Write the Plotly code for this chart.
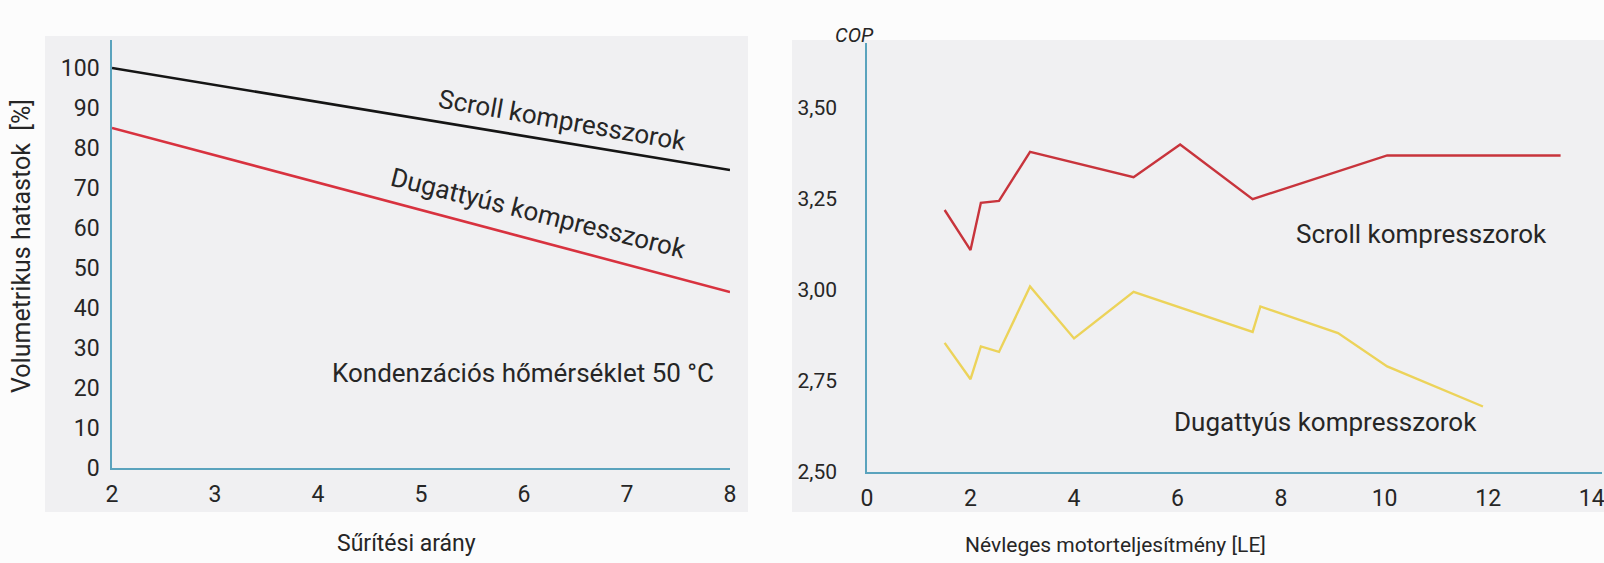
import plotly.graph_objects as go

# ---------------- data ----------------
# Left chart: volumetric efficiency vs compression ratio
ratio = [2, 8]
scroll_eff = [100, 74.5]
piston_eff = [85, 44]
left_xticks = [2, 3, 4, 5, 6, 7, 8]
left_yticks = [0, 10, 20, 30, 40, 50, 60, 70, 80, 90, 100]

# Right chart: COP vs nominal motor power
scroll_hp = [1.5, 2.0, 2.2, 2.55, 3.15, 5.15, 6.05, 7.45, 10.05, 13.4]
scroll_cop = [3.22, 3.11, 3.24, 3.245, 3.38, 3.31, 3.40, 3.25, 3.37, 3.37]
piston_hp = [1.5, 2.0, 2.2, 2.55, 3.15, 4.0, 5.15, 7.45, 7.6, 9.1, 10.05, 11.9]
piston_cop = [2.855, 2.755, 2.845, 2.83, 3.01, 2.867, 2.995, 2.885, 2.955, 2.882, 2.79, 2.68]
right_xticks = [0, 2, 4, 6, 8, 10, 12, 14]
right_yticks = [2.50, 2.75, 3.00, 3.25, 3.50]

W, H = 1604, 563
FONT = "Roboto"
TXT = "#262626"
AXC = "#5aa3bd"

def px(x):
    return x / W

def py(y):
    return 1 - y / H

fig = go.Figure()

fig.add_trace(go.Scatter(x=ratio, y=scroll_eff, mode="lines",
                         line=dict(color="#151515", width=2.6),
                         xaxis="x", yaxis="y", showlegend=False))
fig.add_trace(go.Scatter(x=ratio, y=piston_eff, mode="lines",
                         line=dict(color="#d8323f", width=2.6),
                         xaxis="x", yaxis="y", showlegend=False))
fig.add_trace(go.Scatter(x=scroll_hp, y=scroll_cop, mode="lines",
                         line=dict(color="#c8343c", width=2.4),
                         xaxis="x2", yaxis="y2", showlegend=False))
fig.add_trace(go.Scatter(x=piston_hp, y=piston_cop, mode="lines",
                         line=dict(color="#ecd35a", width=2.4),
                         xaxis="x2", yaxis="y2", showlegend=False))

common = dict(showgrid=False, zeroline=False, showline=True, linecolor=AXC,
              linewidth=1.6, ticks="", mirror=False, ticklabeloverflow="allow")

def tf(size):
    return dict(family=FONT, size=size, color=TXT)

fig.update_layout(
    width=W, height=H,
    margin=dict(l=0, r=0, t=0, b=0, autoexpand=False),
    paper_bgcolor="#fcfcfc",
    plot_bgcolor="rgba(0,0,0,0)",
    separators=", ",
    xaxis=dict(domain=[px(112), px(730)], range=[2, 8], tickvals=left_xticks,
               anchor="y", ticklabelstandoff=5, tickfont=tf(23), **common),
    yaxis=dict(domain=[py(468), py(40)], range=[0, 107], tickvals=left_yticks,
               anchor="x", ticklabelstandoff=6, tickfont=tf(23), **common),
    xaxis2=dict(domain=[px(867), px(1602)], range=[0, 14.2], tickvals=right_xticks,
                anchor="y2", ticklabelstandoff=5, tickfont=tf(23), **common),
    yaxis2=dict(domain=[py(472), py(43)], range=[2.5, 3.679], tickvals=right_yticks,
                tickformat=".2f", anchor="x2", ticklabelstandoff=24,
                tickfont=tf(21), **common),
    shapes=[
        dict(type="rect", xref="paper", yref="paper", layer="below",
             x0=px(45), x1=px(748), y0=py(512), y1=py(36),
             fillcolor="#f0f0f2", line=dict(width=0)),
        dict(type="rect", xref="paper", yref="paper", layer="below",
             x0=px(792), x1=1, y0=py(512), y1=py(40),
             fillcolor="#f0f0f2", line=dict(width=0)),
    ],
)

ann_font = tf(26)

annotations = [
    dict(text="Scroll kompresszorok", x=px(562), y=py(120), textangle=10,
         font=ann_font),
    dict(text="Dugattyús kompresszorok", x=px(538), y=py(213), textangle=14,
         font=ann_font),
    dict(text="Kondenzációs hőmérséklet 50 °C", x=px(523), y=py(373),
         font=ann_font),
    dict(text="Sűrítési arány", x=px(406), y=py(543), font=tf(23)),
    dict(text="Volumetrikus hatastok  [%]", x=px(22), y=py(246), textangle=-90,
         font=tf(25)),
    dict(text="Scroll kompresszorok", x=px(1421), y=py(234), font=ann_font),
    dict(text="Dugattyús kompresszorok", x=px(1325), y=py(422), font=ann_font),
    dict(text="<i>COP</i>", x=px(854), y=py(35), font=tf(20)),
    dict(text="Névleges motorteljesítmény [LE]", x=px(1115), y=py(545),
         font=tf(21)),
]
for a in annotations:
    a.update(xref="paper", yref="paper", showarrow=False,
             xanchor="center", yanchor="middle")
fig.update_layout(annotations=annotations)

fig.write_html("out.html",
               config={"displayModeBar": False},
               post_script="document.body.style.margin='0';"
                           "document.body.style.padding='0';")
